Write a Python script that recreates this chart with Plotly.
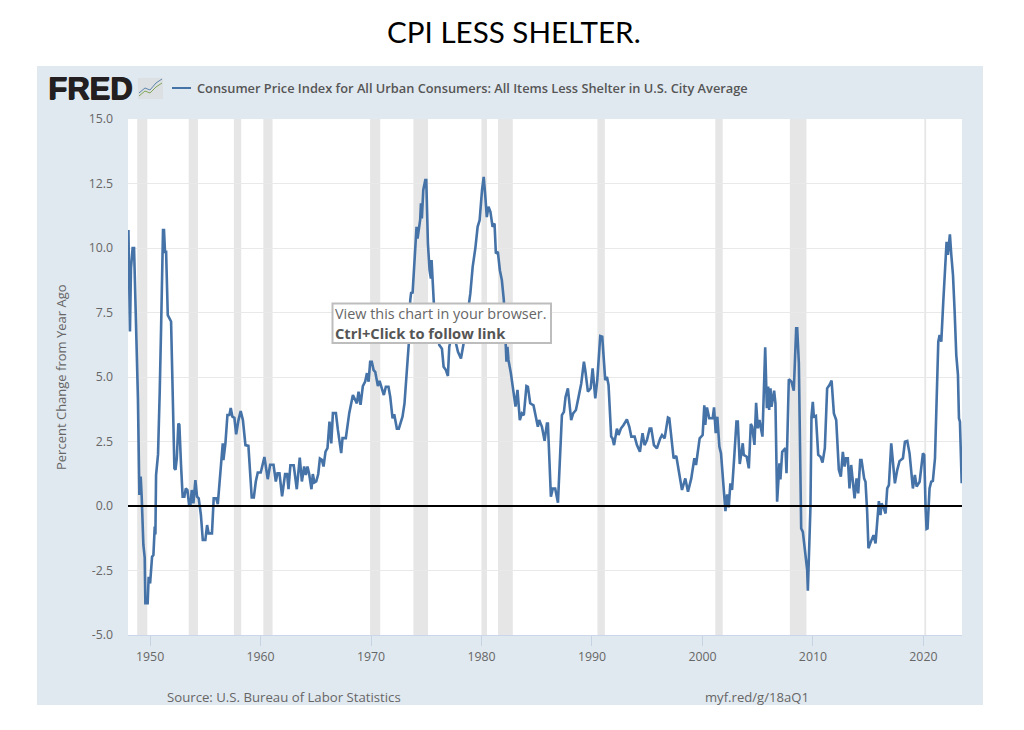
from datetime import datetime, timedelta
import plotly.graph_objects as go

CHART_TITLE = "CPI LESS SHELTER."
SERIES_NAME = "Consumer Price Index for All Urban Consumers: All Items Less Shelter in U.S. City Average"
Y_TITLE = "Percent Change from Year Ago"
SOURCE = "Source: U.S. Bureau of Labor Statistics"
SHORT_LINK = "myf.red/g/18aQ1"

obs_year = [
 1948.04,1948.18,1948.27,1948.42,1948.55,1948.73,1948.9,1949.03,1949.15,1949.24,1949.39,1949.51,1949.57,1949.78,1949.87,
 1950.0,1950.18,1950.3,1950.42,1950.48,1950.54,1950.72,1950.78,1950.87,1951.0,1951.08,1951.17,1951.26,1951.35,1951.45,1951.6,1951.9,
 1952.05,1952.2,1952.3,1952.42,1952.56,1952.65,1952.8,1952.95,1953.1,1953.23,1953.38,1953.53,1953.65,1953.77,1953.92,
 1954.1,1954.25,1954.4,1954.6,1954.77,1955.0,1955.16,1955.3,1955.6,1955.76,1955.98,1956.13,1956.43,1956.58,1956.64,1956.82,
 1957.0,1957.18,1957.3,1957.45,1957.63,1957.79,1958.0,1958.2,1958.4,1958.63,1958.9,1959.05,1959.2,1959.39,1959.57,1959.75,
 1960.02,1960.35,1960.65,1960.87,1961.17,1961.38,1961.53,1961.71,1961.95,1962.22,1962.4,1962.53,1962.7,1963.0,1963.28,1963.55,1963.74,1963.95,
 1964.1,1964.25,1964.4,1964.61,1964.73,1964.88,1965.04,1965.22,1965.37,1965.55,1965.7,1965.88,1966.06,1966.24,1966.4,1966.55,1966.82,
 1967.0,1967.3,1967.42,1967.72,1968.03,1968.36,1968.72,1968.87,1969.05,1969.26,1969.47,1969.63,1969.78,1969.92,
 1970.07,1970.23,1970.38,1970.62,1970.77,1970.92,1971.16,1971.34,1971.58,1971.74,1971.95,1972.1,1972.34,1972.52,1972.85,
 1973.03,1973.25,1973.46,1973.55,1973.64,1973.76,1974.0,1974.12,1974.21,1974.36,1974.45,1974.52,1974.6,1974.73,1974.91,1975.0,1975.15,1975.3,1975.42,1975.48,1975.6,1975.72,
 1976.18,1976.42,1976.57,1976.78,1976.96,1977.08,1977.3,1977.69,1977.87,1978.14,1978.38,1978.68,1978.99,1979.2,1979.44,1979.65,1979.83,
 1980.05,1980.2,1980.35,1980.48,1980.63,1980.81,1981.0,1981.18,1981.3,1981.48,1981.66,1981.84,1982.02,1982.14,1982.26,1982.35,1982.44,1982.66,1982.87,
 1983.08,1983.26,1983.47,1983.65,1983.83,1984.07,1984.2,1984.41,1984.71,1985.1,1985.22,1985.47,1985.71,1985.92,1986.01,1986.16,1986.28,1986.46,1986.67,1986.92,
 1987.13,1987.28,1987.46,1987.61,1987.82,1987.94,1988.12,1988.3,1988.55,1988.79,1989.03,1989.27,1989.39,1989.63,1989.88,1990.06,1990.3,1990.48,1990.66,1990.75,1990.93,
 1991.09,1991.2,1991.36,1991.5,1991.74,1991.86,1992.0,1992.26,1992.41,1992.62,1992.86,1993.16,1993.38,1993.56,1993.86,1994.07,1994.34,1994.58,1994.76,1994.98,
 1995.22,1995.37,1995.61,1995.88,1996.18,1996.34,1996.58,1996.88,1997.0,1997.24,1997.39,1997.63,1997.85,1998.15,1998.45,1998.69,1998.99,1999.27,1999.42,1999.75,
 2000.02,2000.17,2000.26,2000.41,2000.62,2000.93,2001.05,2001.2,2001.35,2001.53,2001.68,2001.93,2002.08,2002.23,2002.38,2002.53,2002.68,2002.9,
 2003.08,2003.2,2003.38,2003.65,2003.74,2004.01,2004.2,2004.38,2004.5,2004.71,2004.86,2005.01,2005.16,2005.43,2005.68,2005.83,2005.95,
 2006.04,2006.16,2006.25,2006.49,2006.61,2006.76,2006.97,2007.06,2007.22,2007.52,2007.61,2007.82,2008.06,2008.27,2008.49,2008.58,2008.73,2008.88,2008.94,
 2009.09,2009.33,2009.48,2009.54,2009.63,2009.78,2009.87,2009.99,2010.09,2010.27,2010.48,2010.69,2010.87,2011.08,2011.29,2011.5,2011.69,2011.9,
 2012.11,2012.35,2012.53,2012.71,2012.87,2013.0,2013.16,2013.31,2013.46,2013.77,2013.95,2014.1,2014.28,2014.4,2014.64,2014.76,2014.91,
 2015.03,2015.25,2015.49,2015.67,2015.82,2015.97,2016.12,2016.21,2016.42,2016.58,2016.73,2016.88,2017.09,2017.27,2017.42,2017.63,2017.84,
 2018.15,2018.33,2018.54,2018.75,2019.05,2019.23,2019.39,2019.66,2019.96,2020.08,2020.2,2020.29,2020.38,2020.56,2020.71,2020.86,
 2021.05,2021.17,2021.35,2021.47,2021.62,2021.8,2021.95,2022.1,2022.22,2022.4,2022.53,2022.68,2022.83,2022.98,2023.13,2023.22,2023.31,2023.47,
]
obs_value = [
 10.7,6.76,9.2,10.0,10.0,7.0,4.2,0.43,1.14,0.36,-1.5,-2.0,-3.77,-3.77,-2.74,
 -3.0,-1.97,-1.9,-0.8,-1.1,1.2,2.0,3.5,4.4,7.0,9.2,10.7,10.7,9.85,9.85,7.4,7.15,
 4.2,1.46,1.4,1.85,3.2,3.15,1.6,0.36,0.36,0.68,0.62,0.04,0.04,0.62,0.1,
 1.0,0.36,0.3,-0.35,-1.32,-1.32,-0.74,-1.06,-1.06,0.3,0.3,0.07,1.46,2.43,1.78,2.43,
 3.53,3.53,3.8,3.46,3.42,2.78,3.33,3.68,3.33,2.36,2.33,1.2,0.33,0.33,0.95,1.3,
 1.3,1.9,1.04,1.6,1.6,0.95,1.27,1.27,0.37,1.24,1.24,0.65,1.58,1.58,0.65,1.88,0.95,1.53,
 1.2,1.53,1.24,0.65,1.24,0.91,0.95,1.24,1.84,1.79,1.53,2.11,2.24,3.27,2.43,3.6,3.6,
 2.95,2.05,2.63,2.63,3.6,4.3,3.98,4.43,3.92,4.65,4.82,5.15,4.82,5.59,
 5.59,5.27,5.2,4.65,4.85,4.6,4.3,4.62,4.62,4.23,3.4,3.56,3.0,3.0,3.46,
 3.98,5.53,6.56,7.98,8.3,8.24,9.92,10.82,10.37,10.95,11.1,11.73,11.15,12.25,12.63,12.63,10.18,9.14,8.82,9.53,8.75,7.6,
 6.24,6.1,5.4,5.27,5.04,6.17,6.6,6.3,5.98,5.72,6.3,7.2,8.24,9.27,9.98,10.82,11.08,
 12.25,12.76,11.99,11.2,11.6,11.4,10.82,10.95,9.79,9.85,9.14,8.76,7.98,6.43,5.59,6.17,5.66,5.14,4.5,
 3.85,4.5,3.33,3.59,3.52,4.65,4.62,3.98,3.9,3.07,3.33,3.07,2.53,3.2,3.2,1.65,0.36,0.68,0.68,0.13,
 2.17,3.52,3.65,4.23,4.56,3.98,3.33,3.59,3.72,4.23,4.75,5.59,5.27,4.43,4.56,5.33,4.17,4.88,6.17,6.59,6.56,
 5.4,4.88,5.0,4.69,2.69,2.62,2.36,3.0,2.75,3.0,3.14,3.36,3.07,2.69,2.69,2.36,2.1,2.82,2.36,2.56,
 3.0,3.0,2.36,2.23,2.62,2.75,2.62,3.43,3.4,2.36,1.85,1.94,1.33,0.62,1.07,0.55,1.07,1.85,1.59,2.62,
 2.75,3.9,3.14,3.82,3.4,3.4,3.82,2.82,3.46,2.3,2.04,0.62,-0.2,0.45,-0.05,0.88,0.62,2.04,
 3.27,3.27,1.63,2.43,1.98,1.91,1.46,3.18,3.08,2.37,4.0,3.01,3.33,2.69,6.15,3.79,4.63,
 3.72,4.56,3.85,4.47,3.98,0.17,1.65,1.03,2.1,2.24,1.27,4.91,4.82,4.47,6.89,6.89,5.53,0.75,-0.87,
 -1.0,-1.83,-2.48,-3.28,-2.29,-0.03,3.46,4.04,3.46,3.49,1.98,1.91,1.68,2.24,4.56,4.69,4.86,3.59,
 3.33,1.4,1.14,2.1,1.53,1.85,1.85,0.68,1.59,0.3,1.07,0.49,1.78,1.78,1.07,0.94,-0.22,
 -1.64,-1.38,-1.13,-1.45,-0.74,0.19,-0.35,0.1,-0.09,-0.29,0.68,0.81,2.43,1.46,0.88,1.39,1.74,
 1.85,2.49,2.52,2.04,0.68,1.2,0.75,0.94,2.04,1.98,-0.09,-0.89,-0.87,0.68,0.94,0.97,
 1.85,4.17,6.37,6.63,6.37,7.92,9.08,10.24,9.73,10.53,9.73,8.95,7.53,5.85,5.08,3.4,3.27,0.88,
]
recession_start = ["1948-11-01","1953-07-01","1957-08-01","1960-04-01","1969-12-01","1973-11-01","1980-01-01","1981-07-01","1990-07-01","2001-03-01","2007-12-01","2020-02-01"]
recession_end = ["1949-10-01","1954-05-01","1958-04-01","1961-02-01","1970-11-01","1975-03-01","1980-07-01","1982-11-01","1991-03-01","2001-11-01","2009-06-01","2020-04-01"]
y_ticks = [-5, -2.5, 0, 2.5, 5, 7.5, 10, 12.5, 15]
y_tick_labels = ["-5.0", "-2.5", "0.0", "2.5", "5.0", "7.5", "10.0", "12.5", "15.0"]
x_ticks = ["1950-01-01","1960-01-01","1970-01-01","1980-01-01","1990-01-01","2000-01-01","2010-01-01","2020-01-01"]
x_tick_labels = ["1950","1960","1970","1980","1990","2000","2010","2020"]

W, H = 1024, 730
L, R, T, B = 128, 962, 119, 635
BLUE = "#4572a7"
PANEL = "#e1e9f0"
GREY = "#666666"


def to_date(y):
    yr = int(y)
    return (datetime(yr, 1, 1) + timedelta(days=(y - yr) * 365.25)).strftime("%Y-%m-%d")


def px(x):
    return (x - L) / (R - L)


def py(y):
    return (B - y) / (B - T)


def rect(x0, y0, x1, y1, fill, layer="below", line=None):
    return dict(type="rect", xref="paper", yref="paper", x0=px(x0), x1=px(x1), y0=py(y0), y1=py(y1),
                fillcolor=fill, layer=layer, line=line or dict(width=0))


def seg(points, color, width):
    d = "M " + " L ".join(f"{px(a):.5f},{py(b):.5f}" for a, b in points)
    return dict(type="path", xref="paper", yref="paper", path=d, line=dict(color=color, width=width), layer="above")


def label(x, y, text, size, color=GREY, xanchor="left", family="Open Sans", angle=0, weight=None, shadow=None):
    f = dict(family=family, size=size, color=color)
    if weight:
        f["weight"] = weight
    if shadow:
        f["shadow"] = shadow
    return dict(xref="paper", yref="paper", x=px(x), y=py(y), text=text, showarrow=False, xanchor=xanchor,
                yanchor="middle", font=f, textangle=angle, borderpad=0)


shapes = [rect(37, 66, 983, 705, PANEL), rect(L, T, R, B, "#ffffff")]
for a, b in zip(recession_start, recession_end):
    shapes.append(dict(type="rect", xref="x", yref="paper", x0=a, x1=b, y0=0, y1=1, fillcolor="#e6e6e6",
                       layer="between", line=dict(width=0)))
shapes.append(dict(type="line", xref="paper", yref="y", x0=0, x1=1, y0=0, y1=0, layer="above",
                   line=dict(color="#000000", width=2)))
# logo icon and legend swatch
shapes.append(rect(138, 78, 163, 99, "#dde0e2", layer="above"))
shapes.append(seg([(139, 96), (145, 91), (150, 93), (156, 87), (162, 83)], "#7fa65a", 1))
shapes.append(seg([(139, 93), (145, 88), (150, 90), (156, 83), (162, 79)], "#5d86ad", 1))
shapes.append(seg([(172, 88), (191, 88)], BLUE, 2))
# tooltip box
shapes.append(rect(332.5, 303.5, 551, 343, "#ffffff", layer="above", line=dict(color="#bdbdbd", width=2)))

annotations = [
    label(513.5, 32, CHART_TITLE, 29.6, "#000000", "center", "Lato"),
    label(47, 89, "<b>FRED</b>", 31, "#231f20", family="Liberation Sans",
          shadow="1px 0 0 #231f20, 0 1px 0 #231f20"),
    label(195.5, 88, SERIES_NAME, 12.8, "#555555", weight=600),
    label(61, 377, Y_TITLE, 13, GREY, "center", angle=-90),
    label(165.5, 697, SOURCE, 13.2, GREY),
    label(703.5, 697, SHORT_LINK, 13.1, GREY),
    label(333.5, 313, "View this chart in your browser.", 14.4, "#666666"),
    label(333.5, 333, "<b>Ctrl+Click to follow link</b>", 14.7, "#555555"),
]

fig = go.Figure(go.Scatter(x=[to_date(v) for v in obs_year], y=obs_value, mode="lines", name=SERIES_NAME,
                           line=dict(color=BLUE, width=2.6), showlegend=False, hoverinfo="x+y"))
fig.update_layout(
    width=W, height=H, margin=dict(l=L, r=W - R, t=T, b=H - B, pad=0),
    paper_bgcolor="#ffffff", plot_bgcolor="#ffffff", showlegend=False,
    shapes=shapes, annotations=annotations,
    font=dict(family="Open Sans", color=GREY),
)
fig.update_xaxes(type="date", range=["1948-01-01", "2023-07-01"], tickvals=x_ticks, ticktext=x_tick_labels,
                 ticks="outside", ticklen=10, tickcolor="#c6d3e3", tickwidth=1, showgrid=False,
                 showline=True, linecolor="#ccd6eb", linewidth=1, tickfont=dict(size=12.3, color=GREY), ticklabelstandoff=0)
fig.update_yaxes(range=[-5, 15], tickvals=y_ticks, ticktext=y_tick_labels, ticks="", showgrid=True,
                 gridcolor="#e9e9e9", gridwidth=1, zeroline=False, showline=False,
                 tickfont=dict(size=12.3, color=GREY), ticklabelstandoff=14)
fig.write_html("out.html", config=dict(displayModeBar=False),
               post_script="document.body.style.margin='0';document.documentElement.style.overflow='hidden';")
